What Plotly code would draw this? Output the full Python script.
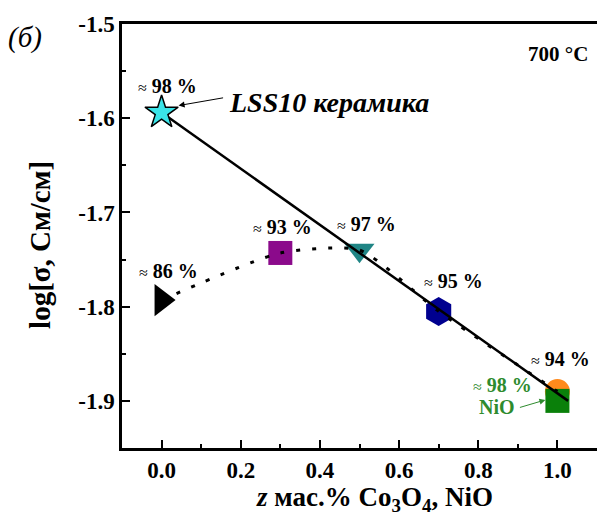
import plotly.graph_objects as go

# Conductivity at 700 °C versus oxide additive content
z_co = [0.0, 0.3, 0.5, 0.7, 1.0]
logsig_co = [-1.793, -1.743, -1.740, -1.805, -1.890]
density_co = [86, 93, 97, 95, 94]

z_lss = [0.0]
logsig_lss = [-1.594]
density_lss = [98]

z_nio = [1.0]
logsig_nio = [-1.900]
density_nio = [98]

# linear trend line endpoints
fit_z = [0.0, 1.027]
fit_logsig = [-1.594, -1.900]

x_ticks = [0.0, 0.2, 0.4, 0.6, 0.8, 1.0]
y_ticks = [-1.9, -1.8, -1.7, -1.6, -1.5]

# per-point marker styles for the Co3O4 series
co_symbols = ["triangle-right", "square", "triangle-down", "hexagon", "circle"]
co_colors = ["#000000", "#8b0a8b", "#1f8585", "#00008f", "#ff8a1c"]
co_sizes = [28, 24, 26, 29, 25]
# label offsets (px) relative to each point
co_label_shift = [(7, 29), (2, 26), (7, 26), (15, 30), (3, 32)]

FONT = "Liberation Serif"
GREEN = "#2e8b2e"

fig = go.Figure()

fig.add_trace(go.Scatter(
    x=z_co, y=logsig_co, mode="markers",
    marker=dict(symbol=co_symbols, color=co_colors, size=co_sizes, opacity=1,
                line=dict(width=0)),
    showlegend=False, hoverinfo="skip"))

fig.add_trace(go.Scatter(
    x=z_nio, y=logsig_nio, mode="markers",
    marker=dict(symbol="square", color="#0a800a", size=24, opacity=1, line=dict(width=0)),
    showlegend=False, hoverinfo="skip"))

fig.add_trace(go.Scatter(
    x=z_co, y=logsig_co, mode="lines",
    line=dict(color="black", width=3, dash="4px,12px", shape="spline", smoothing=0.6),
    showlegend=False, hoverinfo="skip"))

fig.add_trace(go.Scatter(
    x=fit_z, y=fit_logsig, mode="lines",
    line=dict(color="black", width=2.5),
    showlegend=False, hoverinfo="skip"))

fig.add_trace(go.Scatter(
    x=z_lss, y=logsig_lss, mode="markers",
    marker=dict(symbol="star", color="#3ae4e8", size=25, opacity=1,
                line=dict(color="black", width=1.5)),
    showlegend=False, hoverinfo="skip"))


def density_text(v):
    return ('<span style="font-weight:normal;font-size:16px">≈</span> '
            f'<b>{v} %</b>')


annotations = []
for x, y, d, (dx, dy) in zip(z_co, logsig_co, density_co, co_label_shift):
    annotations.append(dict(x=x, y=y, xshift=dx, yshift=dy, text=density_text(d),
                            showarrow=False, xanchor="center", yanchor="middle",
                            font=dict(family=FONT, size=20, color="black")))

annotations.append(dict(x=z_lss[0], y=logsig_lss[0], xshift=6, yshift=27,
                        text=density_text(density_lss[0]), showarrow=False,
                        xanchor="center", yanchor="middle",
                        font=dict(family=FONT, size=20, color="black")))

annotations.append(dict(x=z_nio[0], y=logsig_nio[0], xshift=-55, yshift=16,
                        text=density_text(density_nio[0]), showarrow=False,
                        xanchor="center", yanchor="middle",
                        font=dict(family=FONT, size=20, color=GREEN)))
annotations.append(dict(x=z_nio[0], y=logsig_nio[0], xshift=-60, yshift=-6,
                        text="<b>NiO</b>", showarrow=False,
                        xanchor="center", yanchor="middle",
                        font=dict(family=FONT, size=20, color=GREEN)))
# arrow pointing at the NiO marker
annotations.append(dict(x=z_nio[0], y=logsig_nio[0], xshift=-12, yshift=1, text="",
                        showarrow=True, arrowhead=2, arrowsize=1.2, arrowwidth=1,
                        arrowcolor=GREEN, ax=-27, ay=8))

# ceramic label with arrow to the star
annotations.append(dict(x=z_lss[0], y=logsig_lss[0], xshift=65, yshift=10,
                        text="<b><i>LSS10 керамика</i></b>", showarrow=False,
                        xanchor="left", yanchor="middle",
                        font=dict(family=FONT, size=28, color="black")))
annotations.append(dict(x=z_lss[0], y=logsig_lss[0], xshift=17, yshift=7, text="",
                        showarrow=True, arrowhead=2, arrowsize=1.2, arrowwidth=1,
                        arrowcolor="black", ax=46, ay=-8))

annotations.append(dict(xref="paper", yref="paper", x=0.985, y=0.93,
                        xanchor="right", yanchor="middle",
                        text="<b>700 °C</b>", showarrow=False,
                        font=dict(family=FONT, size=21, color="black")))

annotations.append(dict(xref="paper", yref="paper", x=-0.204, y=0.969,
                        xanchor="center", yanchor="middle",
                        text="<i>(б)</i>", showarrow=False,
                        font=dict(family=FONT, size=29, color="black")))

annotations.append(dict(xref="paper", yref="paper", x=-0.1726, y=0.479,
                        xanchor="center", yanchor="middle",
                        text="<b>log[σ, См/см]</b>", textangle=-90, showarrow=False,
                        font=dict(family=FONT, size=29, color="black")))

annotations.append(dict(xref="paper", yref="paper", x=0.532, y=-0.12,
                        xanchor="center", yanchor="middle",
                        text="<b><i>z</i> мас.% Co<sub>3</sub>O<sub>4</sub>, NiO</b>",
                        showarrow=False,
                        font=dict(family=FONT, size=27, color="black")))

fig.update_layout(
    width=597, height=527,
    margin=dict(l=122, r=0, t=24, b=79),
    paper_bgcolor="white", plot_bgcolor="white",
    annotations=annotations,
    font=dict(family=FONT, color="black"),
)

fig.update_xaxes(
    range=[-0.1, 1.1], tickvals=x_ticks, ticktext=[f"<b>{v:.1f}</b>" for v in x_ticks],
    showgrid=False, zeroline=False,
    showline=True, linecolor="black", linewidth=2.5, mirror=True,
    ticks="inside", ticklen=8, tickwidth=2, tickcolor="black",
    minor=dict(ticks="inside", ticklen=4, tickwidth=2, tickcolor="black", dtick=0.1,
               tick0=0, showgrid=False),
    tickfont=dict(family=FONT, size=23, color="black"),
)
fig.update_yaxes(
    range=[-1.95, -1.5], tickvals=y_ticks, ticktext=[f"<b>{v:.1f}</b>" for v in y_ticks],
    showgrid=False, zeroline=False,
    showline=True, linecolor="black", linewidth=2.5, mirror=False,
    ticks="inside", ticklen=8, tickwidth=2, tickcolor="black",
    minor=dict(ticks="inside", ticklen=4, tickwidth=2, tickcolor="black", dtick=0.05,
               tick0=-1.5, showgrid=False),
    tickfont=dict(family=FONT, size=23, color="black"),
)

fig.write_html("out.html")
